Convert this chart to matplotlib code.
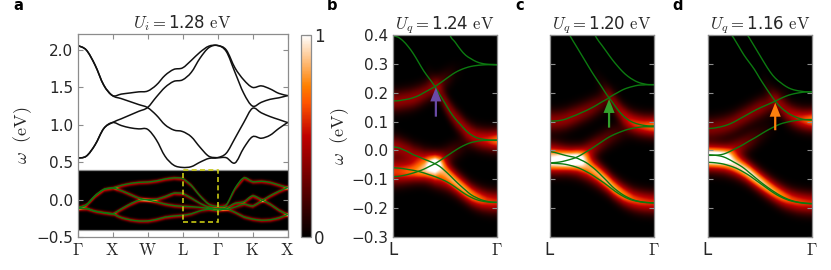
import numpy as np
import matplotlib
matplotlib.use('Agg')
import matplotlib.pyplot as plt
from matplotlib.patches import Rectangle, PathPatch
from matplotlib.path import Path

plt.rcParams['font.family'] = ['DejaVu Sans']
plt.rcParams['mathtext.fontset'] = 'cm'

# ---------- panel a ----------
path_ticks = ['$\\Gamma$', '$\\mathrm{X}$', '$\\mathrm{W}$', '$\\mathrm{L}$', '$\\Gamma$', '$\\mathrm{K}$', '$\\mathrm{X}$']
k_path = [i * 0.25 for i in range(25)]
upper_1 = [2.06,2.00,1.80,1.53,1.39,1.41,1.425,1.44,1.45,1.53,1.66,1.74,1.76,1.86,1.97,2.05,2.06,2.00,1.76,1.60,1.50,1.52,1.48,1.42,1.39]
upper_2 = [2.06,2.00,1.80,1.53,1.39,1.35,1.31,1.27,1.23,1.13,1.00,0.93,0.91,0.84,0.70,0.58,0.56,0.56,0.49,0.69,0.84,0.82,0.86,0.95,1.03]
upper_3 = [0.555,0.58,0.73,0.95,1.03,1.08,1.13,1.18,1.23,1.37,1.50,1.58,1.60,1.70,1.89,2.03,2.06,1.98,1.70,1.42,1.25,1.30,1.34,1.36,1.39]
upper_4 = [0.555,0.58,0.73,0.95,1.03,0.99,0.96,0.945,0.94,0.80,0.58,0.46,0.43,0.44,0.50,0.55,0.56,0.62,0.82,1.03,1.22,1.16,1.11,1.07,1.03]
lower_1 = [-0.11,-0.07,0.05,0.135,0.155,0.19,0.215,0.23,0.235,0.25,0.275,0.29,0.28,0.19,0.05,-0.06,-0.09,-0.07,0.15,0.29,0.24,0.245,0.23,0.195,0.16]
lower_2 = [-0.12,-0.12,-0.155,-0.175,-0.19,-0.125,-0.06,-0.01,0.0,0.005,0.04,0.085,0.08,0.02,-0.05,-0.10,-0.125,-0.11,-0.05,-0.03,0.05,0.0,-0.06,-0.14,-0.20]
lower_3 = [-0.11,-0.07,0.05,0.135,0.155,0.12,0.07,0.02,-0.005,-0.03,-0.06,-0.08,-0.09,-0.095,-0.105,-0.115,-0.12,-0.13,-0.10,-0.06,-0.085,-0.02,0.05,0.11,0.16]
lower_4 = [-0.12,-0.12,-0.155,-0.175,-0.19,-0.24,-0.27,-0.285,-0.285,-0.265,-0.235,-0.22,-0.21,-0.19,-0.15,-0.13,-0.145,-0.125,-0.17,-0.23,-0.26,-0.275,-0.27,-0.245,-0.20]
k_weight_a = [0, 1, 1.1, 3, 3.5, 4, 4.5, 5, 6]
lower_weights = [[.42, .42, .5, .5, .3, .3, .45, .5, .5],
                 [.42, .42, .5, .5, .3, .3, .45, .5, .5],
                 [.12, .12, .5, .5, .3, .3, .3, .5, .5],
                 [.12, .12, .5, .5, .3, .3, .45, .5, .5]]

# ---------- panels b, c, d ----------
k_zoom = [i * 0.05 for i in range(21)]
k_weight = [i * 0.1 for i in range(11)]

b_1 = [.397,.393,.38,.36,.335,.305,.275,.25,.225,.195,.165,.135,.11,.09,.07,.055,.045,.04,.037,.035,.035]
b_2 = [.9,.85,.8,.76,.72,.68,.64,.6,.56,.52,.47,.4,.375,.35,.33,.318,.308,.302,.299,.298,.297]
b_3 = [.172,.172,.175,.178,.183,.19,.2,.21,.22,.232,.245,.258,.27,.279,.286,.291,.294,.296,.297,.297,.297]
b_4 = [.012,.01,.003,-.005,-.015,-.022,-.03,-.037,-.045,-.055,-.07,-.087,-.105,-.122,-.138,-.153,-.163,-.171,-.176,-.179,-.18]
b_5 = [-.06,-.061,-.063,-.066,-.069,-.073,-.078,-.084,-.09,-.097,-.105,-.115,-.127,-.14,-.152,-.162,-.17,-.175,-.178,-.18,-.18]
b_6 = [-.091,-.09,-.087,-.083,-.078,-.072,-.065,-.056,-.047,-.036,-.024,-.012,0,.011,.02,.027,.031,.034,.035,.036,.036]
b_weights = [[0,0,0,0,.15,.45,.5,.55,.6,.65,.75],
             [0,0,0,0,0,0,0,0,0,0,0],
             [.5,.5,.5,.45,.4,.2,.05,0,0,0,0],
             [.55,.5,.5,.55,.8,.8,.8,.8,.75,.7,.65],
             [.5,.5,.5,.55,.7,.55,.4,.3,.2,.1,.1],
             [.45,.45,.45,.5,.65,.35,.2,.1,.05,.1,.2]]

c_1 = [.75,.6,.47,.43,.395,.365,.335,.305,.275,.247,.22,.192,.168,.143,.122,.107,.097,.091,.087,.085,.085]
c_2 = [.8,.74,.68,.62,.57,.53,.49,.46,.425,.39,.365,.34,.315,.293,.273,.257,.245,.236,.231,.228,.228]
c_3 = [.102,.102,.104,.108,.115,.122,.13,.138,.147,.157,.168,.178,.19,.2,.21,.217,.222,.226,.227,.228,.228]
c_4 = [-.004,-.007,-.012,-.017,-.021,-.025,-.033,-.042,-.055,-.07,-.088,-.106,-.125,-.14,-.153,-.163,-.171,-.176,-.179,-.181,-.182]
c_5 = [-.044,-.045,-.046,-.048,-.052,-.057,-.064,-.073,-.083,-.095,-.107,-.12,-.134,-.147,-.158,-.167,-.173,-.177,-.18,-.181,-.182]
c_6 = [-.043,-.042,-.04,-.036,-.031,-.025,-.016,-.005,.006,.018,.03,.042,.052,.06,.067,.073,.077,.08,.082,.082,.082]
c_weights = [[0,0,0,0,0,.1,.4,.6,.7,.7,.75],
             [0,0,0,0,0,0,0,0,0,0,0],
             [.5,.5,.5,.45,.4,.3,.05,0,0,0,0],
             [.6,.6,.6,.7,.7,.75,.8,.8,.75,.7,.65],
             [.6,.6,.6,.6,.55,.45,.3,.2,.1,.1,.1],
             [.55,.55,.55,.55,.5,.35,.25,.15,.1,.15,.2]]

d_1 = [.7,.62,.56,.5,.42,.39,.36,.33,.305,.28,.25,.222,.195,.17,.15,.135,.123,.115,.109,.106,.105]
d_2 = [.8,.74,.68,.62,.57,.53,.49,.42,.39,.36,.33,.3,.272,.25,.235,.222,.213,.208,.205,.203,.203]
d_3 = [.076,.077,.08,.084,.09,.098,.108,.118,.128,.138,.147,.155,.163,.171,.18,.188,.194,.198,.201,.203,.203]
d_4 = [-.015,-.016,-.018,-.022,-.03,-.04,-.05,-.062,-.077,-.092,-.107,-.121,-.134,-.146,-.157,-.166,-.173,-.178,-.181,-.183,-.184]
d_5 = [-.041,-.042,-.044,-.047,-.052,-.058,-.066,-.076,-.087,-.1,-.113,-.126,-.139,-.151,-.161,-.169,-.175,-.179,-.182,-.184,-.185]
d_6 = [-.017,-.017,-.016,-.013,-.006,.003,.012,.022,.033,.043,.054,.065,.075,.084,.092,.097,.101,.104,.106,.107,.107]
d_weights = [[0,0,0,0,0,0,.15,.45,.6,.65,.75],
             [0,0,0,0,0,0,0,0,0,0,0],
             [.45,.45,.45,.45,.45,.45,.35,.1,0,0,0],
             [.6,.6,.6,.7,.8,.8,.8,.8,.75,.7,.65],
             [.65,.65,.65,.6,.5,.4,.3,.2,.1,.1,.1],
             [.55,.55,.55,.45,.3,.15,.05,0,.05,.15,.25]]

panel_titles = ['$U_q = $1.24 $\\mathrm{eV}$', '$U_q = $1.20 $\\mathrm{eV}$', '$U_q = $1.16 $\\mathrm{eV}$']
arrow_k = [0.415, 0.57, 0.648]
arrow_tip = [0.218, 0.178, 0.165]
arrow_tail = [0.117, 0.079, 0.070]
arrow_colors = ['#6a4aa5', '#33a02c', '#ff7f0e']

W, H = 831, 270
GRAY = '#8c8c8c'
TXT = '#262626'
LINE_GREEN = '#0c7a10'
GAIN_ZOOM = 0.76


def axes_px(fig, x0, x1, y_top, y_bot):
    return fig.add_axes([x0 / W, 1 - y_bot / H, (x1 - x0) / W, (y_bot - y_top) / H])


def style(ax):
    for s in ax.spines.values():
        s.set_color(GRAY)
        s.set_linewidth(0.9)
    ax.tick_params(direction='in', top=True, right=True, length=3.5, width=0.8, color=GRAY,
                   labelsize=11, labelcolor=TXT, pad=3)


def smooth_line(ax, xs, ys, color, lw, zorder):
    """Draw the read values as one Bezier path through every one of them."""
    x = np.asarray(xs, float)
    y = np.asarray(ys, float)
    verts = [(x[0], y[0])]
    codes = [Path.MOVETO]
    for i in range(len(x) - 1):
        x0, y0 = x[max(i - 1, 0)], y[max(i - 1, 0)]
        x3, y3 = x[min(i + 2, len(x) - 1)], y[min(i + 2, len(x) - 1)]
        verts += [(x[i] + (x[i + 1] - x0) / 6, y[i] + (y[i + 1] - y0) / 6),
                  (x[i + 1] - (x3 - x[i]) / 6, y[i + 1] - (y3 - y[i]) / 6),
                  (x[i + 1], y[i + 1])]
        codes += [Path.CURVE4] * 3
    ax.add_patch(PathPatch(Path(verts, codes), fc='none', ec=color, lw=lw, zorder=zorder, capstyle='round'))


def heat(bands, weights, k_b, k_w, xlim, ylim, sigma, nx, ny, gain=1.0):
    kx = np.linspace(xlim[0], xlim[1], nx)
    ey = np.linspace(ylim[0], ylim[1], ny)
    img = np.zeros((ny, nx))
    for band, wt in zip(bands, weights):
        yb = np.interp(kx, k_b, band)
        wb = np.interp(kx, k_w, wt)
        img += gain * wb * np.exp(-(ey[:, None] - yb[None, :]) ** 2 / (2 * sigma ** 2))
    return np.clip(img, 0, 1)


fig = plt.figure(figsize=(W / 100, H / 100), dpi=100)

# panel a
ax = axes_px(fig, 77.5, 287.5, 33.5, 237)
style(ax)
lowers = [lower_1, lower_2, lower_3, lower_4]
img = heat(lowers, lower_weights, k_path, k_weight_a, (0, 6), (-0.4, 0.4), 0.019, 700, 200)
im = ax.imshow(img, extent=[0, 6, -0.4, 0.4], origin='lower', cmap='gist_heat', vmin=0, vmax=1,
               aspect='auto', interpolation='bilinear', zorder=1)
for band in [upper_1, upper_2, upper_3, upper_4]:
    smooth_line(ax, k_path, band, '#111111', 1.1, 2)
for band in lowers:
    smooth_line(ax, k_path, band, LINE_GREEN, 1.0, 2)
ax.plot([0, 6], [0.4, 0.4], color=GRAY, lw=0.9, zorder=3)
ax.plot([0, 6], [-0.4, -0.4], color=GRAY, lw=0.9, zorder=3)
ax.add_patch(Rectangle((3, -0.3), 1, 0.7, fill=False, ec='#c9c914', ls=(0, (3, 2)), lw=1.2, zorder=4))
ax.set_xlim(0, 6)
ax.set_ylim(-0.5, 2.22)
ax.set_xticks(range(7))
ax.set_xticklabels(path_ticks, fontsize=12)
ax.set_yticks([-0.5, 0, 0.5, 1, 1.5, 2])
ax.set_yticklabels(['\u22120.5', '0.0', '0.5', '1.0', '1.5', '2.0'])
ax.set_ylabel('$\\omega\\ \\ (\\mathrm{eV})$', fontsize=13, color=TXT, labelpad=2)
ax.set_title('$U_i = $1.28 $\\mathrm{eV}$', fontsize=12, color=TXT, pad=4)

# colour bar
cax = axes_px(fig, 300.5, 311, 35, 237)
cb = fig.colorbar(im, cax=cax, ticks=[0, 1])
cb.outline.set_edgecolor(GRAY)
cb.outline.set_linewidth(0.9)
cax.tick_params(direction='in', length=3.5, width=0.8, color=GRAY, labelsize=12, labelcolor=TXT, pad=2)
cax.set_yticklabels(['0', '1'])

# panels b-d
all_bands = [[b_1, b_2, b_3, b_4, b_5, b_6], [c_1, c_2, c_3, c_4, c_5, c_6], [d_1, d_2, d_3, d_4, d_5, d_6]]
all_weights = [b_weights, c_weights, d_weights]
lefts = [392.5, 549.5, 707.5]
for i in range(3):
    ax = axes_px(fig, lefts[i], lefts[i] + 104.5, 35, 237)
    style(ax)
    img = heat(all_bands[i], all_weights[i], k_zoom, k_weight, (0, 1), (-0.3, 0.4), 0.025, 210, 200, GAIN_ZOOM)
    ax.imshow(img, extent=[0, 1, -0.3, 0.4], origin='lower', cmap='gist_heat', vmin=0, vmax=1,
              aspect='auto', interpolation='bilinear', zorder=1)
    for band in all_bands[i]:
        smooth_line(ax, k_zoom, band, LINE_GREEN, 1.0, 2)
    ax.annotate('', xy=(arrow_k[i], arrow_tip[i]), xytext=(arrow_k[i], arrow_tail[i]), zorder=5,
                arrowprops=dict(facecolor=arrow_colors[i], edgecolor='none', width=1.6, headwidth=8, headlength=10, shrink=0))
    ax.set_xlim(0, 1)
    ax.set_ylim(-0.3, 0.4)
    ax.set_xticks([0, 1])
    ax.set_xticklabels(['L', '$\\Gamma$'], fontsize=12)
    ax.set_yticks(np.arange(-3, 5) / 10)
    if i == 0:
        ax.set_yticklabels(['\u22120.3', '\u22120.2', '\u22120.1', '0.0', '0.1', '0.2', '0.3', '0.4'])
        ax.set_ylabel('$\\omega\\ \\ (\\mathrm{eV})$', fontsize=13, color=TXT, labelpad=0)
    else:
        ax.set_yticklabels([])
    ax.set_title(panel_titles[i], fontsize=12, color=TXT, pad=4)

# panel letters
for letter, x, y in [('a', 13, 6), ('b', 327, 6), ('c', 515, 6), ('d', 672, 6)]:
    fig.text(x / W, 1 - y / H, letter, fontsize=10.5, fontweight='bold', color='black', va='center')

fig.savefig('out.png', dpi=100)
